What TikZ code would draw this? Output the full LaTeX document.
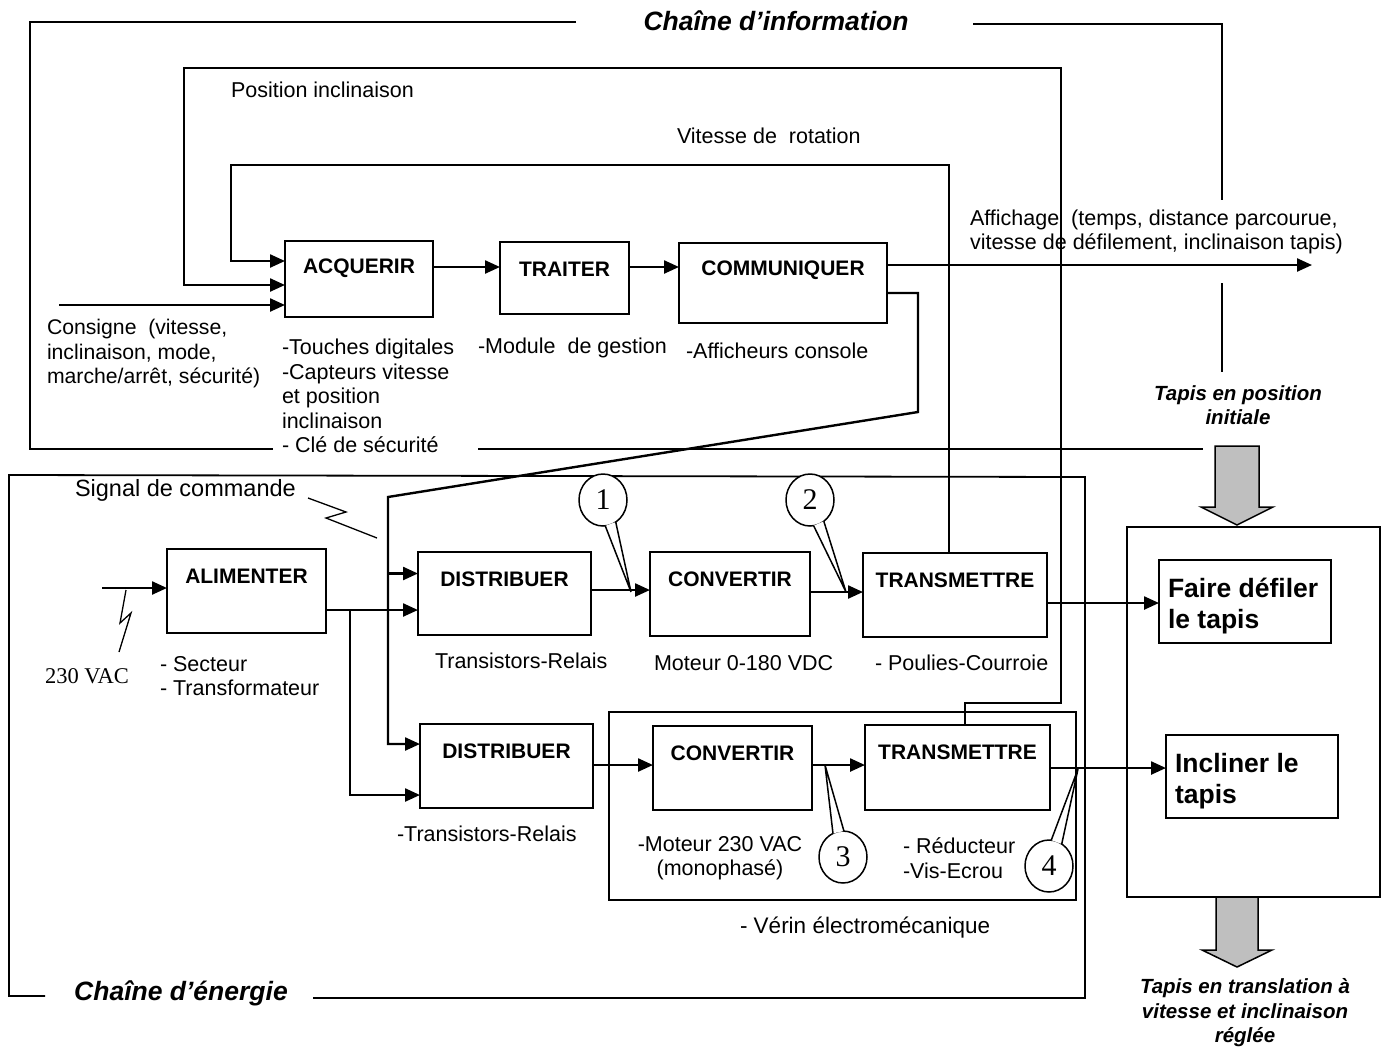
\documentclass[tikz,border=0pt]{standalone}
\usepackage{fontspec}
\setmainfont{Liberation Sans}
\newfontfamily\tms{Liberation Serif}
\usetikzlibrary{arrows.meta,shapes.geometric}
\begin{document}
\begin{tikzpicture}[x=1pt,y=-1pt,
  every node/.style={inner sep=0pt, outer sep=0pt},
  txt/.style={font=\fontsize{21.5}{24.5}\selectfont, align=left, anchor=west},
  blk/.style={draw, line width=1.8pt},
  lab/.style={anchor=center, yshift=-27pt, font=\bfseries\fontsize{21}{24}\selectfont},
  arr/.style={line width=2.4pt, -{Triangle[length=15pt,width=13pt]}},
  frame/.style={line width=1.8pt},
  ttl/.style={font=\bfseries\itshape\fontsize{26.5}{30}\selectfont},
  tap/.style={font=\bfseries\itshape\fontsize{20.5}{24.5}\selectfont, align=center},
  bigt/.style={font=\bfseries\fontsize{26.5}{31}\selectfont, align=left, anchor=west},
  num/.style={draw, ellipse, line width=1.5pt, fill=white, minimum width=48pt, minimum height=52pt, font=\tms\fontsize{30}{32}\selectfont},
  tail/.style={line width=1.5pt},
  grey/.style={draw, line width=1.5pt, fill=gray!50}]
\useasboundingbox (0,0) rectangle (1386,1050);

% ---------- information chain frame ----------
\node[ttl] (info) at (776,21) {Chaîne d’information};
\draw[frame] (576,22) -- (30,22) -- (30,449) -- (273,449);
\draw[frame] (478,449) -- (1203,449);
\draw[frame] (973,24) -- (1222,24) -- (1222,200);
\draw[frame] (1222,283) -- (1222,372);

% ---------- energy chain frame ----------
\node[ttl] (ener) at (181,993) {Chaîne d’énergie};
\draw[frame] (45,996) -- (9,996) -- (9,475) -- (1085,477) -- (1085,998) -- (313,998);

% ---------- verin and big box ----------
\node[draw, line width=1.6pt, minimum width=467pt, minimum height=188pt] (ver) at (842.5,806) {};
\node[blk, minimum width=253pt, minimum height=370pt] (big) at (1253.5,712) {};

% ---------- blocks ----------
\node[blk, minimum width=148pt, minimum height=76pt, label={[lab]north:ACQUERIR}] (acq) at (359,279) {};
\node[blk, minimum width=129pt, minimum height=72pt, label={[lab]north:TRAITER}] (tra) at (564.5,278) {};
\node[blk, minimum width=208pt, minimum height=80pt, label={[lab]north:COMMUNIQUER}] (com) at (783,283) {};
\node[blk, minimum width=159pt, minimum height=84pt, label={[lab]north:ALIMENTER}] (ali) at (246.5,591) {};
\node[blk, minimum width=173pt, minimum height=83pt, label={[lab]north:DISTRIBUER}] (dis1) at (504.5,593.5) {};
\node[blk, minimum width=160pt, minimum height=84pt, label={[lab]north:CONVERTIR}] (con1) at (730,594) {};
\node[blk, minimum width=184pt, minimum height=84pt, label={[lab]north:TRANSMETTRE}] (tr1) at (955,595) {};
\node[blk, minimum width=173pt, minimum height=84pt, label={[lab]north:DISTRIBUER}] (dis2) at (506.5,766) {};
\node[blk, minimum width=159pt, minimum height=84pt, label={[lab]north:CONVERTIR}] (con2) at (732.5,768) {};
\node[blk, minimum width=185pt, minimum height=85pt, label={[lab]north:TRANSMETTRE}] (tr2) at (957.5,767.5) {};
\node[blk, minimum width=172pt, minimum height=83pt] (fdt) at (1245,601.5) {};
\node[blk, minimum width=172pt, minimum height=83pt] (inc) at (1252,776.5) {};
\node[bigt] (fdtT) at (1168,606) {Faire défiler\\le tapis};
\node[bigt] (incT) at (1175,781) {Incliner le\\tapis};

% ---------- texts ----------
\node[txt] (posT) at (231,90) {Position inclinaison};
\node[txt] (vitT) at (677,136) {Vitesse de~ rotation};
\node[txt] (affT) at (970,232) {Affichage\ \ (temps, distance parcourue,\\vitesse de défilement, inclinaison tapis)};
\node[txt, font=\fontsize{21.2}{24.5}\selectfont] (consT) at (47,354) {Consigne\ \ (vitesse,\\inclinaison, mode,\\marche/arrêt, sécurité)};
\node[txt] (acqT) at (282,396) {-Touches digitales\\-Capteurs vitesse\\et position\\inclinaison\\- Clé de sécurité};
\node[txt] (traT) at (478,348) {-Module\ \ de gestion};
\node[txt] (comT) at (686,351) {-Afficheurs console};
\node[txt, font=\fontsize{23.5}{26}\selectfont] (sigT) at (75,490) {Signal de commande};
\node[txt] (aliT) at (160,676) {- Secteur\\- Transformateur};
\node[anchor=west, font=\tms\fontsize{22.5}{24}\selectfont] (vacT) at (45,676) {230 VAC};
\node[txt] (d1T) at (435,661) {Transistors-Relais};
\node[txt] (c1T) at (654,663) {Moteur 0-180 VDC};
\node[txt] (t1T) at (875,663) {- Poulies-Courroie};
\node[txt] (d2T) at (397,834) {-Transistors-Relais};
\node[txt, align=center, anchor=center] (c2T) at (720,858) {-Moteur 230 VAC\\(monophasé)};
\node[txt] (t2T) at (903,858) {- Réducteur\\-Vis-Ecrou};
\node[txt, font=\fontsize{22.5}{25}\selectfont] (verT) at (740,928) {- Vérin électromécanique};
\node[tap] (tapA) at (1238,405) {Tapis en position\\initiale};
\node[tap] (tapB) at (1245,1013) {Tapis en translation à\\vitesse et inclinaison\\réglée};

% ---------- grey arrows ----------
\draw[grey] (1215,446) -- (1259,446) -- (1259,507) -- (1273,507) -- (1237,525) -- (1201,507) -- (1215,507) -- cycle;
\draw[grey] (1216,897) -- (1258,897) -- (1258,950) -- (1272,950) -- (1237,967) -- (1202,950) -- (1216,950) -- cycle;

% ---------- information connectors ----------
\coordinate (cons) at (59,305);
\draw[arr] (cons) -- (cons -| acq.west);
\coordinate (a1) at ([yshift=12pt]acq.east);
\draw[arr] (a1) -- (a1 -| tra.west);
\coordinate (a2) at ([yshift=11pt]tra.east);
\draw[arr] (a2) -- (a2 -| com.west);
\coordinate (aff) at (1312,265);
\draw[arr] (aff -| com.east) -- (aff);
\coordinate (pl1) at (1061,703);
\coordinate (pl2) at (184,68);
\draw[arr] ([xshift=7.5pt]tr2.north) |- (pl1) |- (pl2) |- ([yshift=-6pt]acq.west);
\coordinate (vl1) at (231,165);
\draw[arr] ([xshift=-6pt]tr1.north) |- (vl1) |- ([yshift=18pt]acq.west);

% ---------- command signal ----------
\coordinate (s1) at (918,412);
\coordinate (s2) at (388,497);
\draw[arr] ([yshift=-10pt]com.east) -| (s1) -- (s2) |- ([yshift=22pt]dis2.west);
\coordinate (d1a) at ([yshift=20pt]dis1.west);
\draw[arr] (d1a -| s2) -- (d1a);
\draw[line width=1.3pt] (308,498) -- (346,512) -- (326,518) -- (377,538);

% ---------- energy connectors ----------
\coordinate (vac) at (102,588);
\draw[arr] (vac) -- (vac -| ali.west);
\draw[line width=1.3pt] (126,590) -- (120,623) -- (131,613) -- (119,652);
\coordinate (al) at ([yshift=-19pt]ali.east);
\draw[arr] (al) -- (al -| dis1.west);
\coordinate (br) at (350,610);
\draw[arr] (br) |- ([yshift=-29pt]dis2.west);
\coordinate (c1a) at ([yshift=3.5pt]dis1.east);
\draw[arr] (c1a) -- (c1a -| con1.west);
\coordinate (c1b) at ([yshift=2pt]con1.east);
\draw[arr] (c1b) -- (c1b -| tr1.west);
\coordinate (c1c) at ([yshift=-8pt]tr1.east);
\draw[arr] (c1c) -- (c1c -| fdt.west);
\coordinate (c2a) at ([yshift=1pt]dis2.east);
\draw[arr] (c2a) -- (c2a -| con2.west);
\coordinate (c2b) at ([yshift=3pt]con2.east);
\draw[arr] (c2b) -- (c2b -| tr2.west);
\coordinate (c2c) at ([yshift=-0.5pt]tr2.east);
\draw[arr] (c2c) -- (c2c -| inc.west);

% ---------- callouts ----------
\node[num] (n1) at (603,500) {1};
\coordinate (t1) at (631,592);
\fill[white] (n1.-85) -- (t1) -- (n1.-60) -- cycle;
\draw[tail] (n1.-85) -- (t1) -- (n1.-60);
\node[num] (n2) at (810,500) {2};
\coordinate (t2) at (846,592);
\fill[white] (n2.-82) -- (t2) -- (n2.-57) -- cycle;
\draw[tail] (n2.-82) -- (t2) -- (n2.-57);
\node[num] (n3) at (843,857) {3};
\coordinate (t3) at (825,765);
\fill[white] (n3.88) -- (t3) -- (n3.113) -- cycle;
\draw[tail] (n3.88) -- (t3) -- (n3.113);
\node[num] (n4) at (1049,866) {4};
\coordinate (t4) at (1078,769);
\fill[white] (n4.60) -- (t4) -- (n4.85) -- cycle;
\draw[tail] (n4.60) -- (t4) -- (n4.85);
\end{tikzpicture}
\end{document}
